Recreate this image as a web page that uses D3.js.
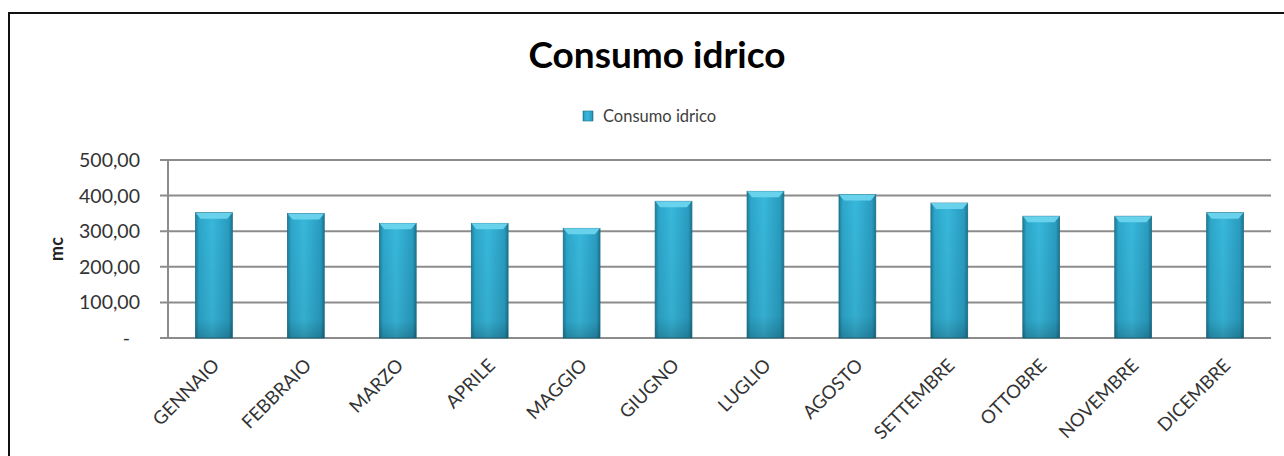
<!doctype html>
<html lang="it">
<head>
    <meta charset="UTF-8">
    <title>Consumo idrico</title>
    <style>
        body { margin: 0; background: #fff; }
        svg { display: block; font-family: Lato, "Open Sans", sans-serif; }
        .grid line { stroke: #8c8c8c; stroke-width: 2; }
        .axis text { fill: #333; }
    </style>
</head>
<body>
    <svg width="1284" height="456"></svg>
    <script src="https://cdn.jsdelivr.net/npm/d3@7"></script>
    <script>
        // dati
        const mesi = ["GENNAIO", "FEBBRAIO", "MARZO", "APRILE", "MAGGIO", "GIUGNO",
                      "LUGLIO", "AGOSTO", "SETTEMBRE", "OTTOBRE", "NOVEMBRE", "DICEMBRE"];
        const consumo = [352, 350, 322, 322, 308, 384, 412, 403, 379, 342, 342, 352];
        const yTicks = [0, 100, 200, 300, 400, 500];

        const svg = d3.select("svg"),
            margin = {top: 160, right: 13, bottom: 118, left: 168},
            width = +svg.attr("width") - margin.left - margin.right,
            height = +svg.attr("height") - margin.top - margin.bottom;

        // cornice esterna (tagliata a destra e in basso)
        svg.append("rect")
            .attr("x", 9).attr("y", 13)
            .attr("width", 1300).attr("height", 480)
            .attr("fill", "none")
            .attr("stroke", "#111")
            .attr("stroke-width", 2);

        // gradienti per le barre
        const defs = svg.append("defs");
        const gH = defs.append("linearGradient").attr("id", "barH")
            .attr("x1", "0").attr("x2", "1").attr("y1", "0").attr("y2", "0");
        gH.append("stop").attr("offset", "0").attr("stop-color", "#1d7f9c");
        gH.append("stop").attr("offset", "0.1").attr("stop-color", "#2ca6ca");
        gH.append("stop").attr("offset", "0.45").attr("stop-color", "#38b8db");
        gH.append("stop").attr("offset", "0.9").attr("stop-color", "#299cc0");
        gH.append("stop").attr("offset", "1").attr("stop-color", "#1a7590");

        const gV = defs.append("linearGradient").attr("id", "barV")
            .attr("x1", "0").attr("x2", "0").attr("y1", "0").attr("y2", "1");
        gV.append("stop").attr("offset", "0").attr("stop-color", "#000").attr("stop-opacity", 0);
        gV.append("stop").attr("offset", "0.85").attr("stop-color", "#000").attr("stop-opacity", 0.06);
        gV.append("stop").attr("offset", "1").attr("stop-color", "#000").attr("stop-opacity", 0.22);

        const g = svg.append("g").attr("transform", "translate(" + margin.left + "," + margin.top + ")");

        const x = d3.scaleBand()
            .domain(mesi)
            .range([0, width])
            .paddingInner(0.6)
            .paddingOuter(0.3);

        const y = d3.scaleLinear()
            .domain([0, 500])
            .range([height, 0]);

        // griglia orizzontale
        g.append("g")
            .attr("class", "grid")
            .selectAll("line")
            .data(yTicks)
            .enter().append("line")
            .attr("x1", -8).attr("x2", width)
            .attr("y1", d => y(d)).attr("y2", d => y(d));

        // asse verticale
        g.append("line")
            .attr("x1", 0).attr("x2", 0)
            .attr("y1", y(500)).attr("y2", y(0))
            .attr("stroke", "#8c8c8c").attr("stroke-width", 2);

        // etichette asse y
        const fmt = d3.formatLocale({decimal: ",", thousands: ".", grouping: [3], currency: ["", ""]}).format(",.2f");
        g.append("g")
            .attr("class", "axis")
            .selectAll("text")
            .data(yTicks)
            .enter().append("text")
            .attr("x", d => d === 0 ? -38 : -28)
            .attr("y", d => y(d))
            .attr("dy", "0.36em")
            .attr("text-anchor", "end")
            .style("font-size", "19.5px")
            .text(d => d === 0 ? "-" : fmt(d));

        // titolo asse y
        svg.append("text")
            .attr("transform", "translate(63,249) rotate(-90)")
            .attr("text-anchor", "middle")
            .style("font-size", "18px")
            .style("font-weight", "bold")
            .attr("fill", "#222")
            .text("mc");

        // barre
        const bars = g.append("g").selectAll("g")
            .data(mesi)
            .enter().append("g");

        bars.append("rect")
            .attr("x", d => x(d))
            .attr("y", (d, i) => y(consumo[i]))
            .attr("width", x.bandwidth())
            .attr("height", (d, i) => y(0) - y(consumo[i]))
            .attr("fill", "url(#barH)")
            .attr("stroke", "#1f6f86")
            .attr("stroke-width", 0.8);

        bars.append("rect")
            .attr("x", d => x(d))
            .attr("y", (d, i) => y(consumo[i]))
            .attr("width", x.bandwidth())
            .attr("height", (d, i) => y(0) - y(consumo[i]))
            .attr("fill", "url(#barV)");

        // smusso chiaro in cima
        bars.append("path")
            .attr("d", (d, i) => {
                const x0 = x(d), x1 = x(d) + x.bandwidth(), t = y(consumo[i]);
                return "M" + x0 + "," + t + "L" + x1 + "," + t +
                    "L" + (x1 - 5) + "," + (t + 6) + "L" + (x0 + 5) + "," + (t + 6) + "Z";
            })
            .attr("fill", "#6fd6ef")
            .attr("opacity", 0.9);

        // etichette mesi
        g.append("g")
            .attr("class", "axis")
            .selectAll("text")
            .data(mesi)
            .enter().append("text")
            .attr("transform", d => "translate(" + (x(d) + x.bandwidth() / 2 + 2) + "," + (y(0) + 24) + ") rotate(-45)")
            .attr("text-anchor", "end")
            .attr("dy", "0.35em")
            .style("font-size", "18.5px")
            .attr("fill", "#222")
            .text(d => d);

        // titolo
        svg.append("text")
            .attr("x", 657).attr("y", 68)
            .attr("text-anchor", "middle")
            .style("font-size", "37px")
            .style("font-weight", "bold")
            .attr("fill", "#000")
            .text("Consumo idrico");

        // legenda
        const leg = svg.append("g").attr("transform", "translate(583,111)");
        leg.append("rect")
            .attr("width", 10).attr("height", 10)
            .attr("fill", "url(#barH)")
            .attr("stroke", "#1f6f86").attr("stroke-width", 0.6);
        leg.append("text")
            .attr("x", 20).attr("y", 5)
            .attr("dy", "0.35em")
            .style("font-size", "16.5px")
            .attr("fill", "#404040")
            .text("Consumo idrico");
    </script>
</body>
</html>
